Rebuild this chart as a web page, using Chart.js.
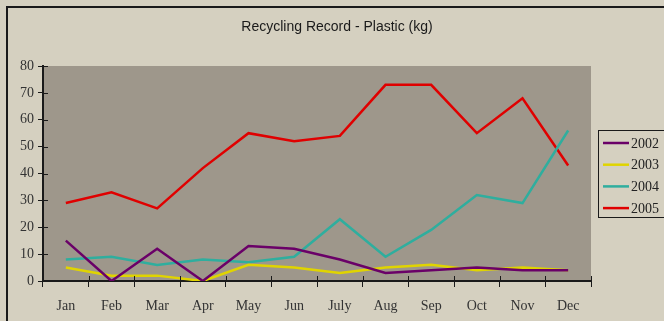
<!DOCTYPE html>
<html>
<head>
<meta charset="utf-8">
<script src="https://cdn.jsdelivr.net/npm/chart.js@4.4.1/dist/chart.umd.min.js"></script>
<style>
  html, body { margin: 0; padding: 0; background: #d5d0c0; }
  #wrap { width: 664px; height: 321px; position: relative; }
</style>
</head>
<body>
<div id="wrap"><canvas id="chart"></canvas></div>
<script>
// Data
const chartTitle = "Recycling Record - Plastic (kg)";
const months = ["Jan", "Feb", "Mar", "Apr", "May", "Jun", "July", "Aug", "Sep", "Oct", "Nov", "Dec"];
const years = ["2002", "2003", "2004", "2005"];
const plastic2002 = [15, 0, 12, 0, 13, 12, 8, 3, 4, 5, 4, 4];
const plastic2003 = [5, 2, 2, 0, 6, 5, 3, 5, 6, 4, 5, 4];
const plastic2004 = [8, 9, 6, 8, 7, 9, 23, 9, 19, 32, 29, 56];
const plastic2005 = [29, 33, 27, 42, 55, 52, 54, 73, 73, 55, 68, 43];
const yTicks = [0, 10, 20, 30, 40, 50, 60, 70, 80];

const colors = ["#6a0068", "#e0d400", "#2fae9e", "#e00000"];
const series = [plastic2002, plastic2003, plastic2004, plastic2005];

// Frame, title, plot background, inner tick marks and legend box
const decor = {
  id: "decor",
  beforeDraw(chart) {
    const { ctx, chartArea } = chart;
    ctx.save();
    ctx.fillStyle = "#d5d0c0";
    ctx.fillRect(0, 0, chart.width, chart.height);
    ctx.strokeStyle = "#1a1a1a";
    ctx.lineWidth = 2;
    ctx.strokeRect(7, 7, chart.width + 20, chart.height + 20);
    ctx.fillStyle = "#9e978b";
    ctx.fillRect(chartArea.left, chartArea.top, chartArea.right - chartArea.left, chartArea.bottom - chartArea.top);

    ctx.fillStyle = "#1a1a1a";
    ctx.font = "14px 'Liberation Sans'";
    ctx.textAlign = "center";
    ctx.textBaseline = "middle";
    ctx.fillText(chartTitle, 337, 27);
    ctx.restore();
  },
  afterDraw(chart) {
    const { ctx, chartArea } = chart;
    const xs = chart.scales.x;
    const ys = chart.scales.y;
    ctx.save();
    // tick marks that also reach into the plot
    ctx.strokeStyle = "#1a1a1a";
    ctx.lineWidth = 1;
    const n = months.length;
    for (let i = 0; i <= n; i++) {
      const x = Math.round(xs.left + i * (xs.right - xs.left) / n) + 0.5;
      ctx.beginPath();
      ctx.moveTo(x, chartArea.bottom - 5);
      ctx.lineTo(x, chartArea.bottom);
      ctx.stroke();
    }
    yTicks.forEach(v => {
      const y = Math.round(ys.getPixelForValue(v)) + 0.5;
      ctx.beginPath();
      ctx.moveTo(chartArea.left, y);
      ctx.lineTo(chartArea.left + 5, y);
      ctx.stroke();
    });

    ctx.strokeRect(598.5, 130.5, 80, 87);
    ctx.font = "14px 'Liberation Serif'";
    ctx.textBaseline = "middle";
    ctx.fillStyle = "#222";
    chart.data.datasets.forEach((ds, i) => {
      const y = 143 + i * 21.7;
      ctx.strokeStyle = ds.borderColor;
      ctx.lineWidth = 2.5;
      ctx.beginPath();
      ctx.moveTo(603, y);
      ctx.lineTo(629, y);
      ctx.stroke();
      ctx.fillText(ds.label, 631, y + 1);
    });
    ctx.restore();
  }
};

new Chart(document.getElementById("chart"), {
  type: "line",
  data: {
    labels: months,
    datasets: years.map((y, i) => ({
      label: y,
      data: series[i],
      borderColor: colors[i],
      borderWidth: 2.5,
      pointRadius: 0,
      tension: 0,
      fill: false,
    })),
  },
  options: {
    responsive: true,
    maintainAspectRatio: false,
    animation: false,
    layout: {
      padding: { top: 66, right: 73, bottom: 0, left: 0 },
    },
    plugins: {
      legend: { display: false },
      tooltip: { enabled: false },
      title: { display: false },
    },
    scales: {
      x: {
        offset: true,
        grid: {
          offset: true,
          drawOnChartArea: false,
          color: "#1a1a1a",
          tickLength: 6,
        },
        border: { color: "#1a1a1a", width: 2 },
        ticks: {
          color: "#333",
          font: { family: "'Liberation Serif'", size: 14 },
          padding: 11,
          maxRotation: 0,
          autoSkip: false,
        },
        afterFit(scale) { scale.height = 40; },
      },
      y: {
        min: 0,
        max: 80,
        afterBuildTicks(scale) { scale.ticks = yTicks.map(v => ({ value: v })); },
        grid: {
          drawOnChartArea: false,
          color: "#1a1a1a",
          tickLength: 5,
        },
        border: { color: "#1a1a1a", width: 2 },
        ticks: {
          color: "#333",
          font: { family: "'Liberation Serif'", size: 14 },
          padding: 4,
        },
        afterFit(scale) { scale.width = 43; },
      },
    },
  },
  plugins: [decor],
});
</script>
</body>
</html>
